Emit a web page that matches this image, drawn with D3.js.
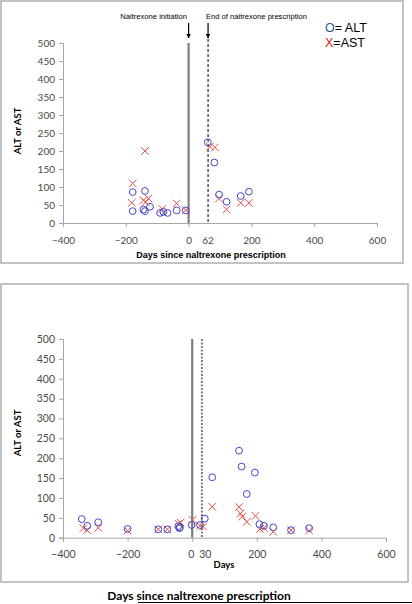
<!DOCTYPE html>
<html><head><meta charset="utf-8">
<script src="https://cdn.jsdelivr.net/npm/d3@7"></script>
<style>html,body{margin:0;padding:0;background:#fff;}svg{display:block;}</style>
</head><body>
<script>
// ---- data ----
const yTicks = [0, 50, 100, 150, 200, 250, 300, 350, 400, 450, 500];
const xTicks = [-400, -200, 0, 200, 400, 600];
const p1ExtraTick = 62;
const p2ExtraTick = 30;

// Panel 1 (top)
const p1AltDays = [-178, -178, -139, -144, -139, -123, -91, -80, -67, -38, -9, 61, 82, 97, 121, 166, 192];
const p1AltVals = [86, 33, 89, 37, 33, 45, 28, 31, 28, 35, 35, 224, 168, 79, 59, 75, 87];
const p1AstDays = [-178, -181, -139, -144, -137, -128, -84, -38, -9, 68, 84, 97, 121, 166, 192];
const p1AstVals = [110, 56, 200, 63, 58, 68, 39, 54, 36, 212, 210, 68, 38, 56, 56];

// Panel 2 (bottom)
const p2AltDays = [-342, -325, -291, -200, -105, -77, -43, -38, -40, -2, 24, 39, 62, 145, 153, 194, 169, 208, 222, 251, 306, 362];
const p2AltVals = [47, 30, 39, 22, 21, 21, 29, 26, 24, 32, 32, 48, 152, 219, 179, 164, 110, 34, 30, 26, 19, 24];
const p2AstDays = [-337, -325, -291, -200, -105, -77, -42, -36, 1, 24, 34, 62, 145, 150, 155, 169, 196, 210, 222, 251, 306, 362];
const p2AstVals = [24, 19, 25, 18, 21, 21, 35, 38, 45, 30, 28, 78, 77, 61, 53, 40, 55, 22, 24, 15, 19, 18];

const labels = {
  p1X: "Days since naltrexone prescription",
  p2X: "Days",
  yTitle: "ALT or AST",
  init: "Naltrexone initiation",
  end: "End of naltrexone prescription",
  bottom: "Days since naltrexone prescription"
};

const W = 412, H = 604;
const svg = d3.select("body").append("svg").attr("width", W).attr("height", H);

const tickFont = "Lato, 'Open Sans', sans-serif";
const altColor = "#4646c8", astColor = "#e0504a", axisColor = "#a6a6a6";

// frames
svg.append("rect").attr("x", 1).attr("y", 1).attr("width", 402).attr("height", 262)
  .attr("fill", "none").attr("stroke", "#b0b0b0").attr("stroke-width", 1.5);
svg.append("rect").attr("x", 1).attr("y", 284).attr("width", 407).attr("height", 298)
  .attr("fill", "none").attr("stroke", "#b0b0b0").attr("stroke-width", 1.5);

function drawPanel(o) {
  const x = d3.scaleLinear().domain([-400, 600]).range([o.x0, o.x1]);
  const y = d3.scaleLinear().domain([0, 500]).range([o.y0, o.y1]);
  const g = svg.append("g");

  // y axis
  const ya = g.append("g").attr("transform", `translate(${o.x0},0)`)
    .call(d3.axisLeft(y).tickValues(yTicks).tickSize(4).tickPadding(4));
  ya.select(".domain").attr("stroke", axisColor);
  ya.selectAll(".tick line").attr("stroke", axisColor);
  ya.selectAll("text").attr("font-family", tickFont).attr("font-size", o.fs).attr("fill", "#4a4a4a");

  // x axis
  const xa = g.append("g").attr("transform", `translate(0,${o.y0})`)
    .call(d3.axisBottom(x).tickValues(xTicks).tickSize(4).tickPadding(o.xpad));
  xa.select(".domain").attr("stroke", axisColor);
  xa.selectAll(".tick line").attr("stroke", axisColor);
  xa.selectAll("text").attr("font-family", tickFont).attr("font-size", o.fs).attr("fill", "#4a4a4a");
  xa.selectAll(".tick").filter(d => d === 0).select("text").attr("dx", o.zeroDx);
  // extra tick label
  g.append("text").attr("x", x(o.extra) + o.extraDx).attr("y", o.y0 + 4 + o.xpad)
    .attr("dy", "0.71em").attr("text-anchor", "middle")
    .attr("font-family", tickFont).attr("font-size", o.fs).attr("fill", "#4a4a4a").text(o.extra);

  // vertical lines
  g.append("line").attr("x1", x(0)).attr("x2", x(0)).attr("y1", y(500)).attr("y2", o.y0)
    .attr("stroke", "#7f7f7f").attr("stroke-width", 2.2);
  g.append("line").attr("x1", x(o.extra)).attr("x2", x(o.extra)).attr("y1", o.dashTop).attr("y2", o.y0)
    .attr("stroke", o.dashColor).attr("stroke-width", o.dashW).attr("stroke-dasharray", o.dash);

  // markers
  const crossSize = 3.8;
  g.selectAll(".ast").data(o.astDays.map((d, i) => [d, o.astVals[i]])).join("path")
    .attr("d", d => {
      const cx = x(d[0]), cy = y(d[1]), s = crossSize;
      return `M${cx - s},${cy - s}L${cx + s},${cy + s}M${cx - s},${cy + s}L${cx + s},${cy - s}`;
    })
    .attr("stroke", astColor).attr("stroke-width", 1).attr("fill", "none");
  g.selectAll(".alt").data(o.altDays.map((d, i) => [d, o.altVals[i]])).join("circle")
    .attr("cx", d => x(d[0])).attr("cy", d => y(d[1])).attr("r", 3.4)
    .attr("fill", "none").attr("stroke", altColor).attr("stroke-width", 1);

  // y title
  g.append("text").attr("transform", `translate(${o.yTitleX},${o.yTitleY}) rotate(-90)`)
    .attr("text-anchor", "middle").attr("font-family", tickFont).attr("font-weight", "bold")
    .attr("font-size", 9.5).attr("fill", "#000").text(labels.yTitle);
  return x;
}

const x1 = drawPanel({
  x0: 63, x1: 377, y0: 223, y1: 43, fs: 10, xpad: 10, extra: p1ExtraTick, extraDx: 0, zeroDx: 0,
  dashTop: 39, dashColor: "#000", dashW: 1, dash: "3,2",
  altDays: p1AltDays, altVals: p1AltVals, astDays: p1AstDays, astVals: p1AstVals,
  yTitleX: 21, yTitleY: 131
});
const x2 = drawPanel({
  x0: 63, x1: 386, y0: 537.7, y1: 339, fs: 10.5, xpad: 9, extra: p2ExtraTick, extraDx: 3.5, zeroDx: -1.5,
  dashTop: 339, dashColor: "#7f7f7f", dashW: 2, dash: "2,1.5",
  altDays: p2AltDays, altVals: p2AltVals, astDays: p2AstDays, astVals: p2AstVals,
  yTitleX: 21, yTitleY: 433
});

// panel 1 x title
svg.append("text").attr("x", 211).attr("y", 258).attr("text-anchor", "middle")
  .attr("font-family", "'Liberation Sans', Arial, sans-serif").attr("font-weight", "bold")
  .attr("font-size", 9).text(labels.p1X);

// annotations
svg.append("text").attr("x", 187).attr("y", 19).attr("text-anchor", "end")
  .attr("font-family", "'Liberation Sans', Arial, sans-serif").attr("font-size", 7.6).attr("fill", "#000").text(labels.init);
svg.append("text").attr("x", 206).attr("y", 19).attr("text-anchor", "start")
  .attr("font-family", "'Liberation Sans', Arial, sans-serif").attr("font-size", 7.6).attr("fill", "#000").text(labels.end);
const defs = svg.append("defs");
defs.append("marker").attr("id", "ah").attr("viewBox", "0 0 10 10").attr("refX", 9).attr("refY", 5)
  .attr("markerWidth", 4).attr("markerHeight", 4).attr("orient", "auto")
  .append("path").attr("d", "M0,0L10,5L0,10Z").attr("fill", "#000");
[x1(0), x1(p1ExtraTick)].forEach(px => {
  svg.append("line").attr("x1", px).attr("x2", px).attr("y1", 23).attr("y2", 38)
    .attr("stroke", "#000").attr("stroke-width", 1.2).attr("marker-end", "url(#ah)");
});

// legend
const lg = svg.append("text").attr("x", 325).attr("y", 32)
  .attr("font-family", "'Liberation Sans', Arial, sans-serif").attr("font-size", 12.5);
lg.append("tspan").attr("fill", "#2f5597").text("O");
lg.append("tspan").attr("fill", "#000").text("= ALT");
const lg2 = svg.append("text").attr("x", 325).attr("y", 47)
  .attr("font-family", "'Liberation Sans', Arial, sans-serif").attr("font-size", 12.5);
lg2.append("tspan").attr("fill", "#e02020").text("X");
lg2.append("tspan").attr("fill", "#000").text("=AST");

// panel 2 x title
svg.append("text").attr("x", 224).attr("y", 568).attr("text-anchor", "middle")
  .attr("font-family", tickFont).attr("font-weight", "bold").attr("font-size", 9.5).text(labels.p2X);

// bottom caption
svg.append("text").attr("x", 199).attr("y", 600).attr("text-anchor", "middle")
  .attr("font-family", tickFont).attr("font-weight", "bold").attr("font-size", 12).text(labels.bottom);
svg.append("line").attr("x1", 138).attr("x2", 412).attr("y1", 602.5).attr("y2", 602.5)
  .attr("stroke", "#000").attr("stroke-width", 1);
</script>
</body></html>
